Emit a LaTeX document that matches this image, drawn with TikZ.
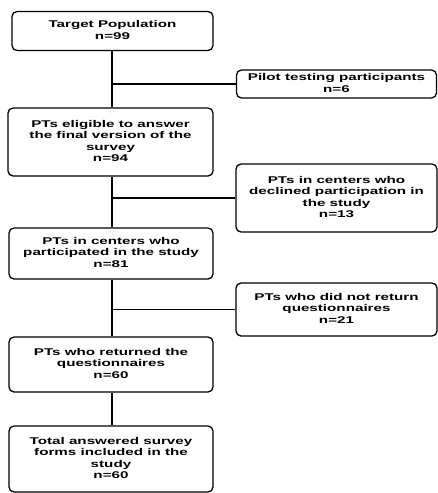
\documentclass[tikz,border=0pt]{standalone}
\usepackage{fontspec}
\setmainfont{Liberation Sans}
\newcommand\widetxt[1]{\scalebox{1.55}[1]{\begin{tabular}{@{}c@{}}#1\end{tabular}}}
\begin{document}
\begin{tikzpicture}[x=1pt,y=-1pt,
  box/.style={draw, line width=1.3pt, rounded corners=5pt, align=center, font=\bfseries\fontsize{9.8}{11.5}\selectfont, inner sep=1pt},
  conn/.style={line width=1.6pt}]
\useasboundingbox (0,0) rectangle (438,493);
\node[box, minimum width=201pt, minimum height=39pt] (b1) at (112.5,31) {\widetxt{Target Population\\n=99}};
\node[box, minimum width=200pt, minimum height=28pt] (p) at (336.5,84) {\widetxt{Pilot testing participants\\n=6}};
\node[box, minimum width=205pt, minimum height=68pt] (b2) at (110.5,142) {\widetxt{PTs eligible to answer\\the final version of the\\survey\\n=94}};
\node[box, minimum width=201pt, minimum height=68pt] (d) at (336.5,198) {\widetxt{PTs in centers who\\declined participation in\\the study\\n=13}};
\node[box, minimum width=204pt, minimum height=51pt] (b3) at (111,253.5) {\widetxt{PTs in centers who\\participated in the study\\n=81}};
\node[box, minimum width=201pt, minimum height=53pt] (r) at (336.5,309.5) {\widetxt{PTs who did not return\\questionnaires\\n=21}};
\node[box, minimum width=204pt, minimum height=55pt] (b4) at (111,364.5) {\widetxt{PTs who returned the\\questionnaires\\n=60}};
\node[box, minimum width=204pt, minimum height=66pt] (b5) at (111,459) {\widetxt{Total answered survey\\forms included in the\\study\\n=60}};
\coordinate (j1) at (112,84);
\coordinate (j2) at (112,198);
\coordinate (j3) at (112,309.5);
\draw[conn] (b1.south -| j1) -- (b2.north -| j1);
\draw[conn] (b2.south -| j1) -- (b3.north -| j1);
\draw[conn] (b3.south -| j1) -- (b4.north -| j1);
\draw[conn] (b4.south -| j1) -- (b5.north -| j1);
\draw[conn] (j1) -- (p.west);
\draw[conn] (j2) -- (d.west);
\draw[conn] (j3) -- (r.west);
\end{tikzpicture}
\end{document}
